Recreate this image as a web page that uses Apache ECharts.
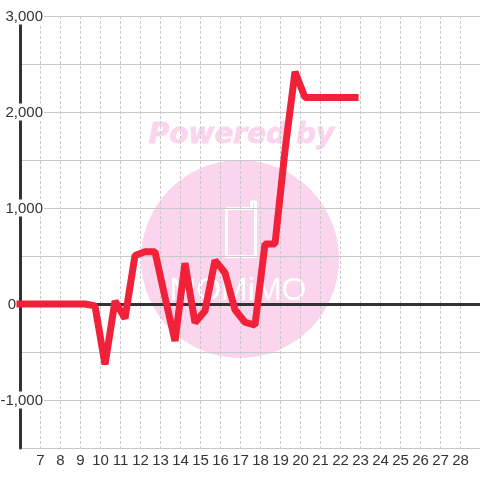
<!DOCTYPE html>
<html>
<head>
<meta charset="utf-8">
<style>
  html, body { margin: 0; padding: 0; background: #fff; }
  #chart { width: 480px; height: 480px; }
</style>
<script src="https://cdn.jsdelivr.net/npm/echarts@6/dist/echarts.min.js"></script>
</head>
<body>
<div id="chart"></div>
<script>
// values
const days = [6, 6.25, 6.75, 7.25, 7.75, 8.25, 8.75, 9.25, 9.75, 10.25, 10.75, 11.25, 11.75, 12.25, 12.75, 13.25, 13.75, 14.25, 14.75, 15.25, 15.75, 16.25, 16.75, 17.25, 17.75, 18.25, 18.75, 19.25, 19.75, 20.25, 20.75, 21.25, 21.75, 22.25, 22.75]
const balance = [0, 0, 0, 0, 0, 0, 0, 0, -20, -630, 30, -150, 505, 545, 545, 70, -385, 425, -195, -70, 455, 325, -60, -190, -220, 625, 625, 1600, 2420, 2150, 2150, 2150, 2150, 2150, 2150]

const TEXT = '#333333'
const GRID = '#c8c8c8'
const PINK = '#fbd5ee'

const chart = echarts.init(document.getElementById('chart'))
chart.setOption({
  backgroundColor: '#ffffff',
  animation: false,
  textStyle: { fontFamily: '"Liberation Sans", Arial, sans-serif' },
  grid: { left: 20, right: 0, top: 16, bottom: 32, outerBoundsMode: 'none' },
  graphic: [
    { type: 'circle', z: -10, shape: { cx: 240, cy: 259, r: 99 }, style: { fill: PINK } },
    { type: 'text', z: -9, x: 241.5, y: 136, style: { text: 'Powered by', fill: PINK, stroke: PINK, lineWidth: 0.8, font: 'italic bold 28px "DejaVu Sans"', align: 'center', verticalAlign: 'middle' } },
    {
      type: 'polyline',
      z: -9,
      shape: { points: [[226.5, 208.5], [251.5, 208.5], [251.5, 202], [255.5, 202], [255.5, 256.5], [226.5, 256.5], [226.5, 208.5]] },
      style: { fill: 'none', stroke: '#ffffff', lineWidth: 3, lineJoin: 'round' }
    },
    { type: 'text', z: -9, x: 238, y: 291, style: { text: 'MOMiMO', fill: '#ffffff', font: '32px "Liberation Sans"', align: 'center', verticalAlign: 'middle' } }
  ],
  xAxis: [
    {
      type: 'value',
      min: 6,
      max: 29,
      interval: 1,
      position: 'bottom',
      axisLine: { show: false, onZero: false },
      axisTick: { show: false },
      axisLabel: {
        color: TEXT,
        fontSize: 15,
        margin: 5,
        padding: [0, 0, 0, 1],
        showMinLabel: false,
        showMaxLabel: false
      },
      splitLine: { show: true, lineStyle: { color: GRID, type: [3, 2], width: 1 } }
    },
    {
      // thick line on zero, labels stay on the bottom axis
      type: 'value',
      min: 6,
      max: 29,
      interval: 1,
      position: 'bottom',
      axisLine: { show: true, onZero: true, lineStyle: { color: TEXT, width: 3 } },
      axisTick: { show: false },
      axisLabel: { show: false },
      splitLine: { show: false }
    }
  ],
  yAxis: {
    type: 'value',
    min: -1500,
    max: 3000,
    interval: 500,
    axisLine: { show: true, onZero: false, lineStyle: { color: TEXT, width: 3 } },
    axisTick: { show: false },
    axisLabel: {
      inside: true,
      align: 'right',
      margin: 24,
      color: TEXT,
      fontSize: 15,
      formatter: v => {
        if (v === 0) return '{zero|0}'
        return v % 1000 === 0 ? '{tick|' + v.toLocaleString('en-US') + '}' : ''
      },
      rich: {
        tick: { backgroundColor: '#ffffff', padding: [2, 1, 0, 0], color: TEXT, fontSize: 15 },
        // the zero label sits left of the axis line in the reference
        zero: { padding: [2, 28, 0, 0], color: TEXT, fontSize: 15 }
      }
    },
    splitLine: { show: true, lineStyle: { color: GRID, width: 1 } }
  },
  series: [
    {
      type: 'line',
      data: days.map((d, i) => [d, balance[i]]),
      showSymbol: false,
      lineStyle: { color: '#f02138', width: 7, join: 'bevel', cap: 'square' },
      clip: false
    }
  ]
})
</script>
</body>
</html>
